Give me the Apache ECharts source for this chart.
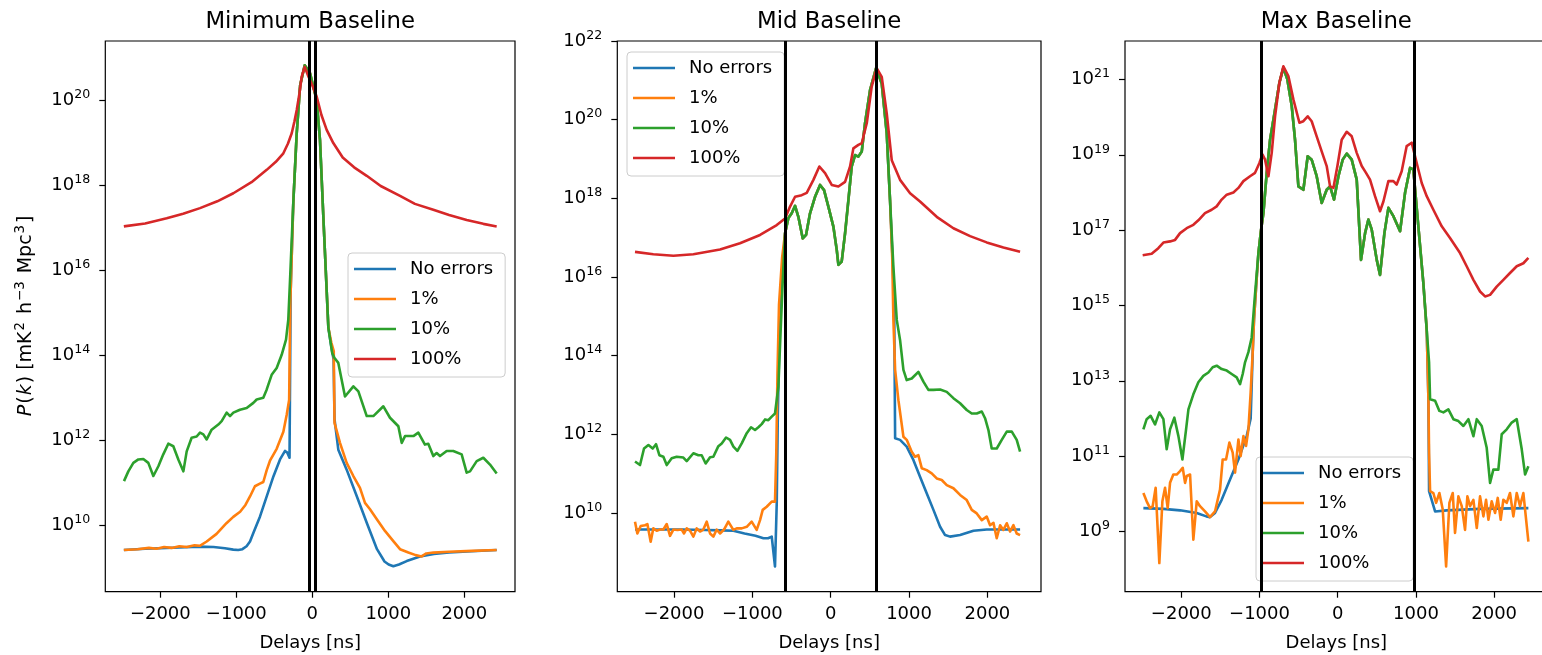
<!DOCTYPE html>
<html><head><meta charset="utf-8">
<script src="https://cdn.jsdelivr.net/npm/echarts@6/dist/echarts.min.js"></script>
<style>html,body{margin:0;padding:0;background:#fff}#c{width:1542px;height:655px}</style>
</head><body><div id="c"></div>
<script>
// All y values are log10 of P(k) [mK^2 h^-3 Mpc^3]; x values are delays in ns.
const seriesNames = ['No errors', '1%', '10%', '100%'];
const panelTitles = ['Minimum Baseline', 'Mid Baseline', 'Max Baseline'];
const xTickValues = [-2000, -1000, 0, 1000, 2000];
const yTicksMin = [10, 12, 14, 16, 18, 20];
const yTicksMid = [10, 12, 14, 16, 18, 20, 22];
const yTicksMax = [9, 11, 13, 15, 17, 19, 21];
const horizonMin = [-43, 43];
const horizonMid = [-580, 580];
const horizonMax = [-980, 980];

// ---------- Minimum baseline ----------
const minPeak = [[-250,17.6],[-206,19.2],[-160,20.35],[-100,20.82],[-30,20.63],[57,20.0],[101,19.06],[145,17.26],[211,14.65]];
const minNoErr = [[-2480,9.42],[-2200,9.45],[-2000,9.46],[-1750,9.48],[-1500,9.5],[-1300,9.49],[-1150,9.46],[-1040,9.43],[-975,9.42],[-920,9.44],[-865,9.51],[-820,9.62],[-776,9.82],[-688,10.21],[-600,10.68],[-512,11.15],[-425,11.55],[-359,11.75],[-329,11.71],[-300,11.59],[-285,15.5],
  ...minPeak,[250,14.2],[280,13.9],[292,12.5],[342,11.78],[452,11.31],[584,10.69],[716,10.06],[851,9.44],[950,9.15],[1004,9.08],[1066,9.04],[1140,9.08],[1242,9.16],[1417,9.27],[1600,9.33],[1800,9.36],[2100,9.39],[2426,9.42]];
const min1 = [[-2480,9.42],[-2300,9.44],[-2150,9.47],[-2050,9.45],[-1950,9.49],[-1850,9.47],[-1750,9.51],[-1650,9.49],[-1550,9.53],[-1480,9.52],[-1390,9.62],[-1260,9.8],[-1130,10.05],[-1040,10.2],[-950,10.32],[-880,10.48],[-820,10.68],[-755,10.92],[-690,10.98],[-645,11.02],[-600,11.3],[-557,11.52],[-469,11.8],[-381,12.2],[-337,12.6],[-305,12.95],[-290,15.2],
  ...minPeak,[250,14.3],[282,14.1],[292,12.41],[364,11.94],[452,11.47],[540,11.16],[627,10.88],[693,10.53],[759,10.38],[851,10.14],[956,9.87],[1066,9.63],[1154,9.44],[1264,9.36],[1360,9.3],[1439,9.27],[1500,9.34],[1592,9.36],[1800,9.38],[2100,9.4],[2426,9.42]];
const min10 = [[-2478,11.04],[-2421,11.27],[-2355,11.47],[-2289,11.55],[-2224,11.56],[-2158,11.47],[-2092,11.16],[-2026,11.39],[-1961,11.67],[-1895,11.92],[-1829,11.86],[-1763,11.55],[-1697,11.27],[-1653,11.74],[-1588,12.06],[-1522,12.09],[-1478,12.18],[-1434,12.14],[-1390,12.02],[-1325,12.25],[-1237,12.37],[-1193,12.45],[-1127,12.65],[-1083,12.57],[-1039,12.65],[-952,12.72],[-864,12.76],[-776,12.88],[-732,12.96],[-645,13.0],[-601,13.19],[-535,13.54],[-469,13.7],[-403,14.01],[-346,14.37],[-316,14.84],[-290,15.9],
  ...minPeak,[262,14.05],[290,13.94],[342,13.82],[430,13.03],[540,13.27],[606,13.15],[716,12.57],[803,12.57],[935,12.8],[1022,12.53],[1132,12.33],[1176,11.94],[1220,12.1],[1330,12.1],[1395,12.18],[1482,11.9],[1526,11.92],[1592,11.63],[1636,11.7],[1680,11.63],[1768,11.75],[1855,11.75],[1965,11.67],[2031,11.24],[2075,11.27],[2163,11.51],[2250,11.59],[2338,11.43],[2426,11.22]];
const min100 = [[-2480,17.03],[-2200,17.1],[-1916,17.22],[-1700,17.33],[-1478,17.46],[-1250,17.62],[-1039,17.81],[-800,18.07],[-600,18.36],[-480,18.55],[-381,18.75],[-320,18.98],[-271,19.22],[-235,19.5],[-205,19.77],[-170,20.15],[-140,20.55],[-100,20.78],[-50,20.55],[0,20.35],[58,20.08],[120,19.65],[189,19.3],[276,18.99],[400,18.65],[550,18.42],[716,18.22],[900,17.98],[1154,17.75],[1350,17.56],[1592,17.42],[1800,17.3],[2031,17.18],[2250,17.09],[2426,17.03]];

// ---------- Mid baseline ----------
const midPeak = [[-583,17.11],[-540,17.5],[-498,17.62],[-455,17.81],[-413,17.53],[-357,16.98],[-315,17.07],[-264,17.62],[-200,18.04],[-136,18.34],[-85,18.21],[-30,17.79],[34,17.28],[77,16.69],[98,16.31],[140,16.39],[183,17.11],[226,17.96],[268,18.81],[311,19.1],[353,19.06],[396,19.19],[438,19.91],[502,20.75],[579,21.31],[651,20.92],[715,19.65],[757,17.96]];
const midNoErr = [[-2498,9.58],[-2200,9.58],[-1900,9.58],[-1600,9.57],[-1400,9.56],[-1243,9.55],[-1100,9.48],[-960,9.42],[-859,9.36],[-800,9.36],[-753,9.4],[-711,8.64],[-689,10.25],[-675,12.5],[-650,15.0],[-610,16.3],
  ...midPeak,[790,16.4],[810,15.3],[822,11.9],[885,11.86],[970,11.69],[1055,11.35],[1140,10.92],[1225,10.5],[1311,10.08],[1396,9.65],[1460,9.44],[1523,9.4],[1651,9.44],[1822,9.55],[1991,9.58],[2200,9.58],[2417,9.58]];
const mid1 = [[-2498,9.78],[-2468,9.48],[-2425,9.67],[-2370,9.69],[-2340,9.72],[-2298,9.27],[-2264,9.61],[-2221,9.55],[-2179,9.58],[-2136,9.58],[-2093,9.72],[-2051,9.42],[-2008,9.58],[-1957,9.57],[-1902,9.58],[-1872,9.48],[-1838,9.61],[-1796,9.55],[-1753,9.4],[-1711,9.61],[-1668,9.53],[-1626,9.58],[-1583,9.78],[-1540,9.48],[-1498,9.4],[-1455,9.58],[-1413,9.48],[-1362,9.58],[-1307,9.78],[-1243,9.57],[-1200,9.61],[-1136,9.61],[-1072,9.65],[-1009,9.78],[-945,9.57],[-902,9.82],[-868,10.08],[-817,10.16],[-753,10.29],[-711,10.29],[-695,11.5],[-680,13.5],[-660,15.3],[-620,16.5],
  ...midPeak,[785,16.5],[800,14.91],[822,13.64],[864,12.87],[928,11.94],[970,11.86],[1034,11.56],[1076,11.43],[1119,11.47],[1162,11.14],[1225,11.09],[1289,11.01],[1353,10.88],[1417,10.84],[1481,10.71],[1566,10.63],[1651,10.46],[1736,10.33],[1800,10.08],[1864,9.99],[1928,9.82],[1991,9.91],[2034,9.69],[2077,9.75],[2119,9.36],[2162,9.69],[2204,9.57],[2247,9.74],[2289,9.53],[2332,9.69],[2374,9.48],[2417,9.44]];
const mid10 = [[-2498,11.31],[-2434,11.22],[-2383,11.64],[-2327,11.73],[-2272,11.64],[-2230,11.75],[-2187,11.47],[-2136,11.43],[-2093,11.22],[-2030,11.39],[-1966,11.43],[-1881,11.41],[-1838,11.32],[-1753,11.52],[-1689,11.47],[-1647,11.47],[-1596,11.26],[-1540,11.42],[-1498,11.43],[-1434,11.7],[-1391,11.77],[-1336,11.92],[-1285,11.86],[-1242,11.69],[-1191,11.58],[-1136,11.77],[-1072,12.03],[-1017,12.18],[-966,12.11],[-923,12.18],[-881,12.26],[-838,12.38],[-796,12.36],[-753,12.45],[-711,12.53],[-668,13.21],[-640,14.6],[-610,16.0],
  ...midPeak,[800,16.26],[843,14.91],[885,14.4],[928,13.64],[970,13.38],[1034,13.42],[1119,13.59],[1183,13.34],[1247,13.13],[1311,13.13],[1396,13.14],[1481,13.08],[1566,12.92],[1651,12.79],[1736,12.62],[1800,12.53],[1864,12.53],[1928,12.58],[1970,12.41],[2013,12.11],[2055,11.64],[2119,11.64],[2183,11.86],[2247,12.07],[2311,12.07],[2374,11.86],[2417,11.56]];
const mid100 = [[-2498,16.64],[-2264,16.58],[-2008,16.54],[-1753,16.58],[-1413,16.7],[-1158,16.86],[-902,17.07],[-689,17.32],[-583,17.49],[-519,17.79],[-455,18.04],[-370,18.08],[-306,18.14],[-221,18.47],[-145,18.81],[-72,18.64],[13,18.34],[98,18.3],[183,18.42],[247,18.81],[289,19.27],[353,19.36],[396,19.4],[460,19.91],[523,20.84],[587,21.31],[651,21.09],[715,20.16],[779,18.97],[885,18.47],[1013,18.13],[1140,17.92],[1353,17.53],[1566,17.24],[1779,17.04],[1991,16.88],[2204,16.75],[2417,16.64]];

// ---------- Max baseline ----------
const maxPeak = [[-1014,16.39],[-980,17.01],[-950,17.45],[-908,18.52],[-865,19.4],[-801,20.2],[-746,20.91],[-695,21.31],[-644,21.0],[-588,20.29],[-546,19.4],[-503,18.16],[-439,18.07],[-384,18.96],[-333,18.87],[-269,18.43],[-205,17.72],[-141,18.07],[-98,18.16],[-47,17.81],[9,18.43],[64,18.87],[115,19.03],[179,18.87],[243,18.34],[298,16.21],[350,16.92],[392,17.28],[435,17.01],[499,16.21],[541,15.81],[597,16.92],[648,17.59],[712,17.37],[797,16.97],[861,17.99],[925,18.65],[967,18.61],[1031,17.1],[1095,15.59],[1138,14.35]];
const maxNoErr = [[-2485,9.62],[-2229,9.6],[-2016,9.56],[-1803,9.49],[-1680,9.4],[-1633,9.38],[-1569,9.49],[-1484,9.84],[-1377,10.38],[-1270,10.91],[-1164,11.53],[-1113,12.0],[-1087,13.76],[-1070,14.64],[-1040,15.6],
  ...maxPeak,[1160,12.5],[1168,10.07],[1245,9.53],[1394,9.56],[1820,9.6],[2438,9.62]];
const max1 = [[-2485,10.02],[-2443,9.8],[-2400,9.62],[-2366,9.67],[-2328,10.16],[-2281,8.16],[-2242,9.8],[-2208,10.16],[-2174,9.62],[-2144,10.29],[-2102,10.51],[-2059,10.51],[-2016,10.6],[-1982,10.69],[-1952,10.29],[-1931,10.47],[-1888,10.51],[-1846,8.78],[-1803,9.8],[-1761,9.67],[-1697,9.53],[-1633,9.38],[-1569,9.53],[-1505,10.11],[-1471,10.91],[-1428,10.91],[-1385,11.36],[-1343,11.09],[-1313,10.56],[-1270,11.44],[-1241,11.0],[-1206,11.53],[-1172,11.27],[-1142,11.71],[-1113,12.69],[-1087,13.76],[-1070,14.64],[-1040,15.6],
  ...maxPeak,[1160,12.5],[1168,11.09],[1181,10.07],[1223,10.02],[1258,9.76],[1300,10.02],[1343,9.58],[1386,8.07],[1428,9.76],[1471,10.02],[1500,8.96],[1543,9.93],[1586,9.67],[1628,9.04],[1658,9.93],[1692,9.67],[1735,9.84],[1778,9.09],[1820,9.93],[1863,9.4],[1897,9.84],[1927,9.31],[1969,9.8],[2012,9.49],[2046,9.89],[2084,9.31],[2118,9.84],[2161,9.76],[2203,10.02],[2246,9.4],[2289,10.02],[2331,9.67],[2374,10.02],[2438,8.73]];
const max10 = [[-2485,11.71],[-2443,11.98],[-2392,12.07],[-2336,11.84],[-2281,12.16],[-2229,11.98],[-2187,11.18],[-2144,11.71],[-2089,12.02],[-2037,11.53],[-1986,10.91],[-1939,11.71],[-1909,12.24],[-1846,12.64],[-1782,12.96],[-1718,13.13],[-1654,13.22],[-1599,13.36],[-1548,13.4],[-1484,13.31],[-1419,13.27],[-1356,13.18],[-1292,13.09],[-1249,12.91],[-1215,13.18],[-1185,13.49],[-1142,13.76],[-1100,14.15],[-1065,15.1],
  ...maxPeak,[1168,13.49],[1181,12.51],[1245,12.47],[1300,12.2],[1351,12.16],[1415,12.24],[1479,11.98],[1543,11.93],[1607,11.8],[1671,11.98],[1735,11.53],[1778,11.98],[1841,11.8],[1905,11.22],[1948,10.29],[1990,10.64],[2054,10.64],[2097,11.58],[2161,11.71],[2225,11.89],[2289,11.98],[2353,11.18],[2396,10.51],[2438,10.73]];
const max100 = [[-2494,16.33],[-2379,16.37],[-2294,16.52],[-2229,16.67],[-2144,16.7],[-2080,16.74],[-2016,16.92],[-1931,17.05],[-1846,17.14],[-1782,17.26],[-1697,17.45],[-1612,17.54],[-1548,17.63],[-1484,17.81],[-1419,17.94],[-1334,18.0],[-1270,18.12],[-1206,18.3],[-1121,18.43],[-1057,18.52],[-1001,18.78],[-963,19.01],[-929,18.87],[-886,18.43],[-844,19.05],[-801,20.02],[-746,20.91],[-695,21.35],[-631,21.09],[-567,20.47],[-490,19.85],[-439,19.89],[-384,20.02],[-333,19.89],[-269,19.49],[-205,19.09],[-141,18.7],[-98,18.16],[-55,18.12],[-4,18.7],[51,19.4],[115,19.61],[179,19.49],[243,19.05],[307,18.7],[362,18.52],[413,18.34],[477,17.9],[541,17.5],[584,17.76],[648,18.3],[712,18.3],[754,18.21],[818,18.56],[882,19.23],[946,19.32],[1010,18.78],[1074,18.25],[1138,17.9],[1223,17.54],[1330,17.1],[1436,16.79],[1564,16.39],[1649,16.04],[1735,15.68],[1820,15.37],[1884,15.24],[1948,15.28],[2033,15.5],[2118,15.68],[2203,15.86],[2289,16.04],[2374,16.12],[2438,16.26]];

// ---------- layout / style (not data) ----------
const FONT = "'DejaVu Sans', sans-serif";
const COLORS = ['#1f77b4', '#ff7f0e', '#2ca02c', '#d62728'];
const panels = [
  { series: [minNoErr, min1, min10, min100], vlines: horizonMin, yTicks: yTicksMin, xr: [-2724, 2667], yr: [8.44, 21.39], left: 105.3, width: 409.7, legend: { left: 348, top: 253 } },
  { series: [midNoErr, mid1, mid10, mid100], vlines: horizonMid, yTicks: yTicksMid, xr: [-2724, 2684], yr: [8.0, 22.0], left: 617.3, width: 423.7, legend: { left: 627, top: 52 } },
  { series: [maxNoErr, max1, max10, max100], vlines: horizonMax, yTicks: yTicksMax, xr: [-2720, 2685], yr: [7.4, 22.02], left: 1125, width: 422.7, legend: { left: 1256, top: 457 } }
];
const TOP = 41, HEIGHT = 550.7;
const supStyle = { fontSize: 12.6, lineHeight: 8, verticalAlign: 'bottom', padding: [0, 0, 8, 0], color: '#000', fontFamily: FONT };
const supRich = {
  b: { fontSize: 18, lineHeight: 18, color: '#000', fontFamily: FONT },
  s: supStyle
};
const nameSup = { fontSize: 13.3, lineHeight: 8, verticalAlign: 'bottom', padding: [0, 2, 8, 1], color: '#000', fontFamily: FONT };

const option = {
  animation: false,
  backgroundColor: '#fff',
  textStyle: { fontFamily: FONT },
  grid: panels.map(p => ({ left: p.left, top: TOP, width: p.width, height: HEIGHT, show: true, borderColor: '#000', borderWidth: 1.2, backgroundColor: 'rgba(0,0,0,0)', containLabel: false, outerBoundsMode: 'none' })),
  xAxis: panels.map((p, i) => ({
    type: 'value', gridIndex: i, min: p.xr[0], max: p.xr[1],
    axisLine: { show: false, onZero: false },
    axisTick: { show: true, length: 6, lineStyle: { color: '#000', width: 1.2 }, customValues: xTickValues },
    axisLabel: { customValues: xTickValues, fontSize: 18, color: '#000', fontFamily: FONT, margin: 14,
      formatter: v => (v < 0 ? '\u2212' + Math.abs(v) : String(v)) },
    splitLine: { show: false },
    name: 'Delays [ns]', nameLocation: 'middle', nameGap: 43,
    nameTextStyle: { fontSize: 18, color: '#000', fontFamily: FONT }
  })),
  yAxis: panels.map((p, i) => {
    const ax = {
      type: 'value', gridIndex: i, min: p.yr[0], max: p.yr[1],
      axisLine: { show: false, onZero: false },
      axisTick: { show: true, length: 6, lineStyle: { color: '#000', width: 1.2 }, customValues: p.yTicks },
      axisLabel: { customValues: p.yTicks, margin: 15, formatter: v => '{b|10}{s|' + v + '}', rich: supRich },
      splitLine: { show: false }
    };
    if (i === 0) {
      ax.name = '{i|P}({i|k}) [mK{s|2} h{s|\u22123} Mpc{s|3}]';
      ax.nameLocation = 'middle';
      ax.nameGap = 70;
      ax.nameTextStyle = { fontSize: 19, lineHeight: 19, color: '#000', fontFamily: FONT,
        rich: { i: { fontStyle: 'italic', fontSize: 19, lineHeight: 19, padding: [0, 1, 0, 1], color: '#000', fontFamily: FONT },
                s: nameSup } };
    }
    return ax;
  }),
  legend: panels.map(p => ({
    show: true, orient: 'vertical', left: p.legend.left, top: p.legend.top,
    data: seriesNames, selectedMode: false, icon: 'rect', itemWidth: 42, itemHeight: 2.6, itemGap: 12,
    padding: [7, 12, 9, 6], backgroundColor: 'rgba(255,255,255,0.8)', borderColor: '#cccccc', borderWidth: 1, borderRadius: 4,
    textStyle: { fontSize: 18, lineHeight: 18, color: '#000', fontFamily: FONT, padding: [0, 0, 0, 9] }
  })),
  graphic: panels.map((p, i) => ({
    type: 'text', x: p.left + p.width / 2, y: 22.5, silent: true,
    style: { text: panelTitles[i], fontSize: 22.8, fontFamily: FONT, fill: '#000', align: 'center', verticalAlign: 'middle', textAlign: 'center', textVerticalAlign: 'middle' }
  })),
  series: []
};

panels.forEach((p, i) => {
  p.series.forEach((d, k) => {
    const s = {
      type: 'line', name: seriesNames[k], xAxisIndex: i, yAxisIndex: i, data: d,
      symbol: 'none', showSymbol: false, smooth: false, color: COLORS[k],
      itemStyle: { color: COLORS[k] },
      lineStyle: { color: COLORS[k], width: 2.6, join: 'round' },
      emphasis: { disabled: true }, z: 2 + k * 0.01
    };
    if (k === 3) {
      s.markLine = { silent: true, symbol: ['none', 'none'], label: { show: false }, animation: false,
        lineStyle: { color: '#000', width: 3, type: 'solid' }, emphasis: { disabled: true },
        data: p.vlines.map(v => ({ xAxis: v })) };
    }
    option.series.push(s);
  });
});

const chart = echarts.init(document.getElementById('c'), null, { renderer: 'canvas' });
chart.setOption(option);
</script></body></html>
